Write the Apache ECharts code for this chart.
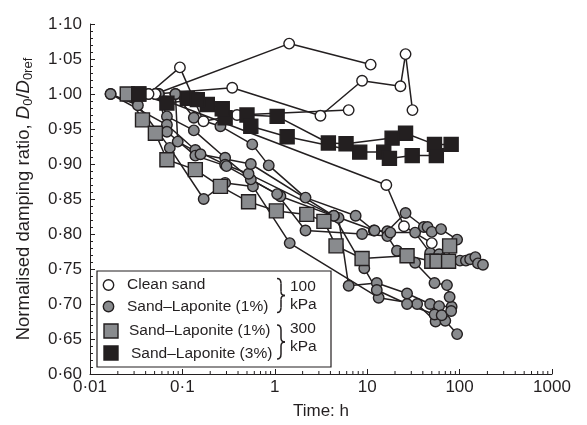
<!DOCTYPE html>
<html>
<head>
<meta charset="utf-8">
<script src="https://cdn.jsdelivr.net/npm/echarts@6/dist/echarts.min.js"></script>
<style>
html,body{margin:0;padding:0;background:#fff;}
#chart{width:587px;height:425px;}
</style>
</head>
<body>
<div id="chart"></div>
<script>
// ---------- data (time in h, normalised damping ratio) ----------
const timeTickLabels = ['0·01', '0·1', '1', '10', '100', '1000'];
const minorMultipliers = [2, 3, 4, 5, 6, 7, 8, 9];
const decades = [0.01, 0.1, 1, 10, 100];

// Clean sand, 100 kPa (white circles)
const cleanSand1 = [[0.051, 1.00], [1.43, 1.072], [10.9, 1.042]];
const cleanSand2 = [[0.043, 1.00], [0.094, 1.038], [0.169, 0.961], [0.39, 0.970], [6.3, 0.977]];
const cleanSand3 = [[0.051, 1.00], [0.346, 1.009], [3.12, 0.969], [8.8, 1.019], [22.9, 1.011], [26, 1.057], [30.9, 0.977]];
const cleanSand4 = [[0.043, 1.00], [16.1, 0.870], [25, 0.811], [50, 0.787]];

// Sand-Laponite (1%), 100 kPa (grey circles)
const lap1a = [[0.0167, 1.00], [0.033, 0.984], [0.073, 0.923], [0.17, 0.850], [0.29, 0.873], [0.58, 0.868], [1.45, 0.787], [13.3, 0.709], [34.7, 0.700], [55, 0.675], [70, 0.676], [94, 0.657]];
const lap1b = [[0.0555, 1.00], [0.068, 0.968], [0.133, 0.948], [0.29, 0.909], [0.55, 0.878], [1.15, 0.854], [4.9, 0.823], [6.3, 0.726], [12.7, 0.730], [27, 0.715], [48, 0.700], [60, 0.697], [82, 0.696]];
const lap1c = [[0.084, 1.00], [0.133, 0.966], [0.258, 0.954], [0.57, 0.928], [0.86, 0.898], [2.15, 0.852], [7.5, 0.826], [11.8, 0.805], [16.5, 0.804], [26, 0.830], [41, 0.810], [45, 0.810], [50, 0.803], [63, 0.807], [94, 0.792]];
const lap1d = [[0.0167, 1.00], [0.068, 0.956], [0.138, 0.920], [0.29, 0.899], [0.52, 0.886], [4.35, 0.826], [9.3, 0.751], [12.7, 0.720], [27, 0.700], [53.6, 0.685], [64, 0.684], [81, 0.690]];
const lap1e = [[0.0555, 1.00], [0.068, 0.946], [0.138, 0.912], [0.30, 0.897], [1.06, 0.857], [2.15, 0.805], [8.8, 0.800], [16.5, 0.797], [21, 0.776], [33, 0.759], [53.5, 0.730], [73, 0.727], [78, 0.710]];
const lap1f = [[0.084, 1.00], [0.089, 0.932], [0.157, 0.914], [0.55, 0.900], [4.35, 0.826], [12, 0.805], [17.8, 0.802], [33, 0.802], [48, 0.773], [60, 0.771], [101, 0.762], [117, 0.762], [130, 0.764], [148, 0.767], [158, 0.758], [179, 0.756]];

// Sand-Laponite (1%), 300 kPa (grey squares)
const lap1HighP = [[0.0253, 1.00], [0.037, 0.963], [0.051, 0.944], [0.068, 0.906], [0.138, 0.892], [0.258, 0.868], [0.52, 0.846], [1.04, 0.833], [2.22, 0.828], [3.4, 0.818], [4.6, 0.783], [8.8, 0.765], [27, 0.769], [50, 0.761], [57, 0.761], [76, 0.761], [78, 0.783]];

// Sand-Laponite (3%), 300 kPa (black squares)
const lap3a = [[0.0337, 1.00], [0.113, 0.994], [0.186, 0.985], [0.29, 0.966], [0.50, 0.970], [1.06, 0.968], [3.8, 0.930], [5.9, 0.929], [18.6, 0.937], [26, 0.944], [53.5, 0.928], [81, 0.928]];
const lap3b = [[0.0337, 1.00], [0.068, 0.987], [0.145, 0.992], [0.27, 0.979], [0.55, 0.954], [1.36, 0.939], [8.3, 0.917], [15.1, 0.917], [17.4, 0.908], [30.7, 0.912], [56, 0.912]];

// ---------- styles ----------
const INK = '#231f20';
const GREY = '#898b8e';
const FONT = 'Liberation Sans, Arial, sans-serif';

function testSeries(data, symbol, size, fill) {
  return {
    type: 'line',
    data: data,
    symbol: symbol,
    symbolSize: size,
    showSymbol: true,
    showAllSymbol: true,
    clip: false,
    lineStyle: { color: INK, width: 1.5 },
    itemStyle: { color: fill, borderColor: INK, borderWidth: 1.4 },
    emphasis: { disabled: true },
    animation: false
  };
}

const minorTickValues = [];
decades.forEach(function (d) { minorMultipliers.forEach(function (m) { minorTickValues.push([d * m]); }); });

const series = [];
[lap1a, lap1b, lap1c, lap1d, lap1e, lap1f].forEach(function (d) { series.push(testSeries(d, 'circle', 10.5, GREY)); });
[cleanSand1, cleanSand2, cleanSand3, cleanSand4].forEach(function (d) { series.push(testSeries(d, 'circle', 10.5, '#ffffff')); });
series.push(testSeries(lap1HighP, 'rect', 14, GREY));
[lap3a, lap3b].forEach(function (d) { series.push(testSeries(d, 'rect', 14, INK)); });

// minor log ticks on the time axis
series.push({
  type: 'custom',
  data: minorTickValues,
  silent: true,
  clip: false,
  animation: false,
  renderItem: function (params, api) {
    const p = api.coord([api.value(0), 0.6]);
    return { type: 'line', shape: { x1: p[0], y1: p[1], x2: p[0], y2: p[1] - 3 }, style: { stroke: INK, lineWidth: 1 } };
  }
});

const braceStyle = { fill: 'none', stroke: INK, lineWidth: 1.5 };
function brace(cx, cy, h) {
  return [
    { type: 'bezierCurve', z: 101, shape: { x1: cx - 4, y1: cy - h, cpx1: cx, cpy1: cy - h, x2: cx, y2: cy - h + 5 }, style: braceStyle },
    { type: 'line', z: 101, shape: { x1: cx, y1: cy - h + 5, x2: cx, y2: cy - 4 }, style: braceStyle },
    { type: 'bezierCurve', z: 101, shape: { x1: cx, y1: cy - 4, cpx1: cx, cpy1: cy, x2: cx + 4, y2: cy }, style: braceStyle },
    { type: 'bezierCurve', z: 101, shape: { x1: cx + 4, y1: cy, cpx1: cx, cpy1: cy, x2: cx, y2: cy + 4 }, style: braceStyle },
    { type: 'line', z: 101, shape: { x1: cx, y1: cy + 4, x2: cx, y2: cy + h - 5 }, style: braceStyle },
    { type: 'bezierCurve', z: 101, shape: { x1: cx, y1: cy + h - 5, cpx1: cx, cpy1: cy + h, x2: cx - 4, y2: cy + h }, style: braceStyle }
  ];
}

function label(text, x, y) {
  return { type: 'text', z: 101, x: x, y: y, style: { text: text, fontFamily: FONT, fontSize: 15.5, fill: INK, verticalAlign: 'middle' } };
}

const graphic = [
  { type: 'rect', z: 100, shape: { x: 97, y: 271, width: 234, height: 96 }, style: { fill: '#fff', stroke: INK, lineWidth: 1.2 } },
  { type: 'circle', z: 101, shape: { cx: 108.5, cy: 285, r: 5.2 }, style: { fill: '#fff', stroke: INK, lineWidth: 1.4 } },
  { type: 'circle', z: 101, shape: { cx: 108.5, cy: 306.5, r: 5.2 }, style: { fill: GREY, stroke: INK, lineWidth: 1.4 } },
  { type: 'rect', z: 101, shape: { x: 104, y: 324, width: 14, height: 14 }, style: { fill: GREY, stroke: INK, lineWidth: 1.4 } },
  { type: 'rect', z: 101, shape: { x: 104, y: 346, width: 14, height: 14 }, style: { fill: INK, stroke: INK, lineWidth: 1.4 } },
  label('Clean sand', 127, 285),
  label('Sand–Laponite (1%)', 127, 306.5),
  label('Sand–Laponite (1%)', 129, 331),
  label('Sand–Laponite (3%)', 131, 353.5),
  label('100', 290, 287),
  label('kPa', 290, 305),
  label('300', 290, 329),
  label('kPa', 290, 347)
].concat(brace(281, 295.5, 17), brace(281, 342, 17));

const chart = echarts.init(document.getElementById('chart'), null, { renderer: 'canvas' });
chart.setOption({
  animation: false,
  backgroundColor: '#ffffff',
  grid: { left: 90, right: 35, top: 24, bottom: 50, containLabel: false },
  xAxis: {
    type: 'log',
    logBase: 10,
    min: 0.01,
    max: 1000,
    name: 'Time: h',
    nameLocation: 'middle',
    nameGap: 29,
    nameTextStyle: { fontFamily: FONT, fontSize: 17, color: INK },
    axisLine: { lineStyle: { color: INK, width: 1 } },
    axisTick: { inside: true, length: 5, lineStyle: { color: INK } },
    splitLine: { show: false },
    axisLabel: {
      fontFamily: FONT, fontSize: 17, color: INK, margin: 5,
      formatter: function (v) { return timeTickLabels[Math.round(Math.log10(v)) + 2]; }
    }
  },
  yAxis: {
    type: 'value',
    min: 0.6,
    max: 1.1,
    interval: 0.05,
    name: '{a|Normalised damping ratio, }{i|D}{s|0}{a|/}{i|D}{s|0ref}',
    nameLocation: 'middle',
    nameGap: 55,
    nameTextStyle: {
      color: INK,
      rich: {
        a: { fontFamily: FONT, fontSize: 18.5, color: INK, lineHeight: 23 },
        i: { fontFamily: FONT, fontSize: 18.5, fontStyle: 'italic', color: INK, lineHeight: 23 },
        s: { fontFamily: FONT, fontSize: 13, color: INK, lineHeight: 13, verticalAlign: 'bottom' }
      }
    },
    axisLine: { show: true, lineStyle: { color: INK, width: 1 } },
    axisTick: { show: true, inside: true, length: 5, lineStyle: { color: INK } },
    minorTick: { show: true, splitNumber: 5, length: 3, lineStyle: { color: INK } },
    splitLine: { show: false },
    axisLabel: {
      fontFamily: FONT, fontSize: 17, color: INK, margin: 8,
      formatter: function (v) { return v.toFixed(2).replace('.', '·'); }
    }
  },
  series: series,
  graphic: graphic
});
</script>
</body>
</html>
